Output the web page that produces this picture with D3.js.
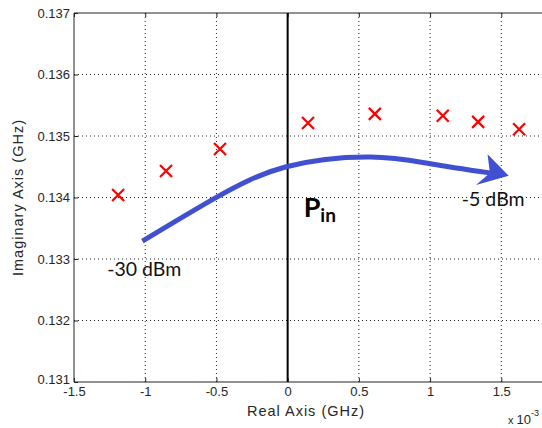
<!DOCTYPE html>
<html>
<head>
<meta charset="utf-8">
<script src="https://cdn.jsdelivr.net/npm/d3@7"></script>
<style>
  body { margin: 0; background: #fff; }
  svg { display: block; }
  .tick text { font-family: "Liberation Sans", Arial, sans-serif; font-size: 13px; fill: #262626; }
</style>
</head>
<body>
<div id="chart"></div>
<script>
// pole locations (real axis in units of 1e-3 GHz, imaginary axis in GHz)
var realVals = [-1.19, -0.854, -0.475, 0.143, 0.612, 1.089, 1.337, 1.625];
var imagVals = [0.13404, 0.13443, 0.13479, 0.13521, 0.13536, 0.13533, 0.13523, 0.13511];

// Pin sweep arrow, drawn in data coordinates
var arrowReal = [-1.02, -0.51, -0.01, 0.58, 1.0, 1.42];
var arrowImag = [0.13329, 0.13399, 0.13450, 0.13466, 0.13455, 0.13440];

var xTicks = [-1.5, -1, -0.5, 0, 0.5, 1, 1.5];
var yTicks = [0.131, 0.132, 0.133, 0.134, 0.135, 0.136, 0.137];

var svgWidth = 542;
var svgHeight = 428;
var margin = { top: 13, left: 74 };
var width = 472;   // runs past the right edge like the original
var height = 369;

var svg = d3.select("#chart")
    .append("svg")
    .attr("width", svgWidth)
    .attr("height", svgHeight);

var chartGroup = svg.append("g")
    .attr("transform", `translate(${margin.left}, ${margin.top})`);

var xScale = d3.scaleLinear()
    .domain([-1.5, 1.5])
    .range([0, 427.3]);

var yScale = d3.scaleLinear()
    .domain([0.131, 0.137])
    .range([height, 0]);

// dotted grid
chartGroup.selectAll(".vgrid")
    .data(xTicks.filter(d => d > -1.5 && d !== 0))
    .enter()
    .append("line")
    .attr("x1", d => xScale(d)).attr("x2", d => xScale(d))
    .attr("y1", 0).attr("y2", height)
    .attr("stroke", "#222")
    .attr("stroke-width", 1)
    .attr("stroke-dasharray", "1,3");

chartGroup.selectAll(".hgrid")
    .data(yTicks.filter(d => d > 0.131 && d < 0.137))
    .enter()
    .append("line")
    .attr("x1", 0).attr("x2", width)
    .attr("y1", d => yScale(d)).attr("y2", d => yScale(d))
    .attr("stroke", "#222")
    .attr("stroke-width", 1)
    .attr("stroke-dasharray", "1,3");

// axes with inward ticks
var bottomAxis = d3.axisBottom(xScale)
    .tickValues(xTicks)
    .tickSize(-4)
    .tickPadding(5)
    .tickFormat(d => d);

var leftAxis = d3.axisLeft(yScale)
    .tickValues(yTicks)
    .tickSize(-4)
    .tickPadding(4)
    .tickFormat(d3.format(".3f"));

var topAxis = d3.axisTop(xScale)
    .tickValues(xTicks)
    .tickSize(-4)
    .tickFormat("");

var xAxisG = chartGroup.append("g")
    .attr("transform", `translate(0, ${height})`)
    .call(bottomAxis);

var yAxisG = chartGroup.append("g")
    .call(leftAxis);

var topG = chartGroup.append("g")
    .call(topAxis);

[xAxisG, yAxisG, topG].forEach(function (g) {
    g.select(".domain").remove();
    g.selectAll(".tick line").attr("stroke", "#222");
});

// lift the lowest y label a little so it clears "-1.5"
yAxisG.selectAll(".tick text").filter(d => d === 0.131).attr("dy", "0.1em");

// box lines
chartGroup.append("line")
    .attr("x1", 0).attr("x2", width).attr("y1", 0).attr("y2", 0)
    .attr("stroke", "#222");
chartGroup.append("line")
    .attr("x1", 0).attr("x2", width).attr("y1", height).attr("y2", height)
    .attr("stroke", "#222");
chartGroup.append("line")
    .attr("x1", 0).attr("x2", 0).attr("y1", 0).attr("y2", height)
    .attr("stroke", "#222");

// imaginary axis (real = 0)
chartGroup.append("line")
    .attr("x1", xScale(0)).attr("x2", xScale(0))
    .attr("y1", 0).attr("y2", height)
    .attr("stroke", "#000")
    .attr("stroke-width", 2);

// red crosses
var s = 6;
chartGroup.selectAll(".pole")
    .data(realVals)
    .enter()
    .append("path")
    .attr("d", `M${-s},${-s}L${s},${s}M${s},${-s}L${-s},${s}`)
    .attr("transform", (d, i) => `translate(${xScale(d)}, ${yScale(imagVals[i])})`)
    .attr("stroke", "#ff0000")
    .attr("stroke-width", 2.2)
    .attr("fill", "none");

// blue arrow
var defs = svg.append("defs");
defs.append("marker")
    .attr("id", "head")
    .attr("markerUnits", "userSpaceOnUse")
    .attr("viewBox", "-14 -20 36 40")
    .attr("markerWidth", 36)
    .attr("markerHeight", 40)
    .attr("refX", 0)
    .attr("refY", 0)
    .attr("orient", "auto")
    .append("path")
    .attr("d", "M19,0L-5,-18L0,0L-12,14Z")
    .attr("fill", "#4050d0");

var arrowLine = d3.line()
    .x(d => xScale(d))
    .y((d, i) => yScale(arrowImag[i]))
    .curve(d3.curveNatural);

chartGroup.append("path")
    .attr("d", arrowLine(arrowReal))
    .attr("fill", "none")
    .attr("stroke", "#4050d0")
    .attr("stroke-width", 5)
    .attr("marker-end", "url(#head)");

// annotations
var noteFont = "Lato, 'Open Sans', sans-serif";
chartGroup.append("text")
    .attr("x", xScale(-1.0) - 38)
    .attr("y", yScale(0.1327) - 1)
    .attr("font-family", noteFont)
    .attr("font-size", 19.5)
    .attr("fill", "#111")
    .text("-30 dBm");

chartGroup.append("text")
    .attr("x", xScale(1.23) - 1)
    .attr("y", yScale(0.1341) + 15)
    .attr("font-family", noteFont)
    .attr("font-size", 19.5)
    .attr("fill", "#111")
    .text("-5 dBm");

var pin = chartGroup.append("text")
    .attr("x", xScale(0) + 16)
    .attr("y", yScale(0.13395) + 16)
    .attr("font-family", noteFont)
    .attr("font-weight", "bold")
    .attr("font-size", 27)
    .attr("fill", "#000");
pin.append("tspan").text("P");
pin.append("tspan").attr("font-size", 19).attr("dy", 5).text("in");

// axis titles
var titleFont = "'Liberation Sans', Arial, sans-serif";
svg.append("text")
    .attr("x", 306)
    .attr("y", 416)
    .attr("text-anchor", "middle")
    .attr("font-family", titleFont)
    .attr("font-size", 14.5)
    .attr("letter-spacing", 1)
    .attr("fill", "#262626")
    .text("Real Axis (GHz)");

svg.append("text")
    .attr("transform", `translate(23, ${margin.top + height / 2}) rotate(-90)`)
    .attr("text-anchor", "middle")
    .attr("font-family", titleFont)
    .attr("font-size", 14.5)
    .attr("letter-spacing", 1)
    .attr("fill", "#262626")
    .text("Imaginary Axis (GHz)");

var expo = svg.append("text")
    .attr("x", 508)
    .attr("y", 424)
    .attr("font-family", titleFont)
    .attr("fill", "#262626");
expo.append("tspan").attr("font-size", 11).text("x ");
expo.append("tspan").attr("font-size", 13).text("10");
expo.append("tspan").attr("font-size", 9).attr("dy", -8).text("-3");
</script>
</body>
</html>
